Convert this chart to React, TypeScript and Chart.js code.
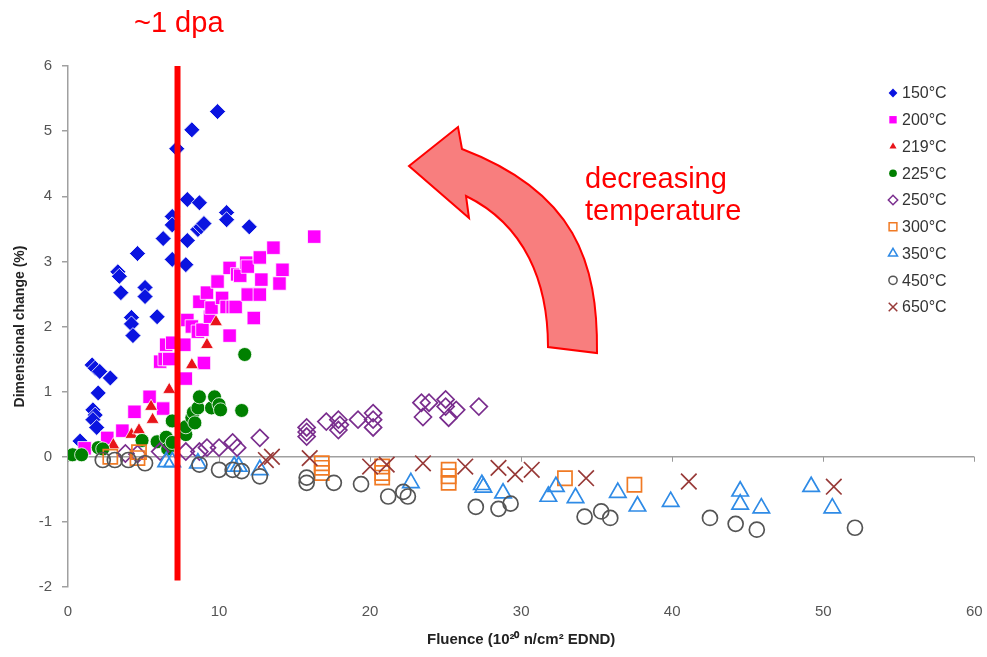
import React, { useEffect, useRef } from 'react';
import { Chart, registerables } from 'chart.js';
import { drawPoint } from 'chart.js/helpers';

Chart.register(...registerables);

// ---------- data ----------
const xTicks = [0, 10, 20, 30, 40, 50, 60];
const yTicks = [-2, -1, 0, 1, 2, 3, 4, 5, 6];
const seriesLabels = ['150°C', '200°C', '219°C', '225°C', '250°C', '300°C', '350°C', '450°C', '650°C'];

type P = [number, number];

const t150: P[] = [
  [0.8, 0.24], [1.6, 1.41], [1.8, 1.36], [2.1, 1.31], [2.8, 1.21], [2.0, 0.98],
  [1.65, 0.72], [1.8, 0.64], [1.65, 0.57], [1.9, 0.45],
  [3.3, 2.84], [3.4, 2.77], [3.5, 2.52], [4.6, 3.12], [5.1, 2.6], [5.1, 2.46],
  [4.2, 2.14], [4.2, 2.04], [4.3, 1.86], [5.9, 2.15], [6.3, 3.35], [6.9, 3.69],
  [6.9, 3.56], [6.9, 3.03], [7.2, 4.73], [7.8, 2.95], [7.9, 3.32], [7.9, 3.95],
  [8.2, 5.02], [8.7, 3.9], [8.6, 3.49], [8.8, 3.53], [9.0, 3.58], [9.9, 5.3],
  [10.5, 3.75], [10.5, 3.64], [12.0, 3.53],
];
const t200: P[] = [
  [1.1, 0.13], [2.6, 0.29], [3.6, 0.4], [4.4, 0.69], [5.4, 0.92], [6.3, 0.74],
  [6.1, 1.46], [6.4, 1.5], [6.7, 1.5], [6.5, 1.72], [6.9, 1.75], [7.7, 1.72],
  [7.8, 1.2], [7.9, 2.1], [8.2, 2.0], [8.6, 1.92], [8.9, 1.95], [9.0, 1.44],
  [8.7, 2.38], [9.2, 2.52], [9.4, 2.15], [9.5, 2.29], [9.9, 2.69], [10.2, 2.44],
  [10.5, 2.3], [10.7, 1.86], [10.7, 2.9], [10.9, 2.3], [11.1, 2.3], [11.2, 2.8],
  [11.4, 2.78], [11.8, 2.98], [11.9, 2.92], [11.9, 2.49], [12.3, 2.13], [12.7, 2.49],
  [12.7, 3.06], [12.8, 2.72], [13.6, 3.21], [14.0, 2.66], [14.2, 2.87], [16.3, 3.38],
];
const t219: P[] = [
  [3.0, 0.18], [4.2, 0.34], [4.7, 0.41], [5.6, 0.57], [5.5, 0.77], [6.7, 1.03],
  [8.2, 1.41], [9.2, 1.72], [9.8, 2.07],
];
const t225: P[] = [
  [0.3, 0.03], [0.9, 0.03], [2.0, 0.14], [2.3, 0.12], [4.9, 0.25], [5.9, 0.23],
  [6.5, 0.3], [6.6, 0.12], [6.9, 0.22], [6.9, 0.55], [7.8, 0.34], [7.8, 0.46],
  [8.2, 0.6], [8.3, 0.68], [8.6, 0.75], [8.7, 0.92], [8.4, 0.52], [9.5, 0.75],
  [9.7, 0.92], [10.0, 0.8], [10.1, 0.72], [11.5, 0.71], [11.7, 1.57],
];
const t250: P[] = [
  [3.8, 0.05], [4.6, 0.04], [6.1, 0.08], [7.8, 0.08], [8.7, 0.08], [9.2, 0.14],
  [10.0, 0.14], [10.9, 0.22], [11.2, 0.14], [12.7, 0.29],
  [15.8, 0.45], [15.8, 0.38], [15.8, 0.31], [17.1, 0.54], [17.9, 0.57], [18.0, 0.49],
  [17.9, 0.41], [19.2, 0.57], [20.2, 0.67], [20.2, 0.57], [20.2, 0.45], [23.4, 0.83],
  [23.5, 0.61], [23.9, 0.83], [25.0, 0.88], [25.0, 0.77], [25.2, 0.6], [25.7, 0.72],
  [27.2, 0.77],
];
const t300: P[] = [
  [2.8, 0.0], [4.6, -0.02], [4.7, 0.07], [16.8, -0.1], [16.8, -0.17], [16.8, -0.25],
  [20.8, -0.15], [20.8, -0.25], [20.8, -0.32], [25.2, -0.2], [25.2, -0.3], [25.2, -0.4],
  [32.9, -0.33], [37.5, -0.43],
];
const t350: P[] = [
  [6.5, -0.08], [6.9, -0.08], [8.6, -0.1], [11.0, -0.15], [11.3, -0.15], [12.7, -0.2],
  [22.7, -0.4], [27.4, -0.43], [27.5, -0.47], [28.8, -0.56], [31.8, -0.61], [32.3, -0.46],
  [33.6, -0.63], [36.4, -0.55], [37.7, -0.76], [39.9, -0.69], [44.5, -0.53], [44.5, -0.73],
  [45.9, -0.79], [49.2, -0.46], [50.6, -0.79],
];
const t450: P[] = [
  [2.3, -0.05], [3.1, -0.05], [4.0, -0.05], [5.1, -0.1], [8.7, -0.12], [10.0, -0.2],
  [10.9, -0.2], [11.5, -0.22], [12.7, -0.3], [15.8, -0.32], [15.8, -0.4], [17.6, -0.4],
  [19.4, -0.42], [21.2, -0.61], [22.2, -0.54], [22.5, -0.61], [27.0, -0.77], [28.5, -0.8],
  [29.3, -0.72], [34.2, -0.92], [35.3, -0.84], [35.9, -0.94], [42.5, -0.94], [44.2, -1.03],
  [45.6, -1.12], [52.1, -1.09],
];
const t650: P[] = [
  [13.1, -0.05], [13.5, 0.0], [16.0, -0.02], [20.0, -0.15], [21.1, -0.12], [23.5, -0.1],
  [26.3, -0.15], [28.5, -0.17], [29.6, -0.27], [30.7, -0.2], [34.3, -0.33], [41.1, -0.38],
  [50.7, -0.46],
];
const seriesData = [t150, t200, t219, t225, t250, t300, t350, t450, t650];

const dpaFluence = 7.25;
const dpaRange = [6, -1.9];
const headline = '~1 dpa';
const arrowText = ['decreasing', 'temperature'];
const xTitle = 'Fluence (10²⁰ n/cm² EDND)';
const yTitle = 'Dimensional change (%)';

// ---------- styles ----------
const styles = [
  { ps: 'rectRot', c: '#0a14e0', r: 8, fill: true },
  { ps: 'rect', c: '#ff00ff', r: 9.5, fill: true },
  { ps: 'triangle', c: '#e8141a', r: 7.5, fill: true },
  { ps: 'circle', c: '#008000', r: 7, fill: true },
  { ps: 'rectRot', c: '#7a2e8e', r: 8.5, fill: false },
  { ps: 'rect', c: '#f07a24', r: 10, fill: false },
  { ps: 'triangle', c: '#2f8be6', r: 9.5, fill: false },
  { ps: 'circle', c: '#555555', r: 7.5, fill: false },
  { ps: 'crossRot', c: '#983a38', r: 11, fill: false },
];

const FONT = '"Liberation Sans", Arial, sans-serif';

const overlay = {
  id: 'overlay',
  beforeDatasetsDraw(chart: any) {
    const ctx = chart.ctx;
    const xs = chart.scales.x;
    const ys = chart.scales.y;
    const y0 = ys.getPixelForValue(0);
    ctx.save();
    ctx.strokeStyle = '#999';
    ctx.lineWidth = 1;
    xTicks.forEach((v) => {
      const px = Math.round(xs.getPixelForValue(v)) + 0.5;
      ctx.beginPath();
      ctx.moveTo(px, y0);
      ctx.lineTo(px, y0 + 5);
      ctx.stroke();
    });
    ctx.restore();
  },
  afterDraw(chart: any) {
    const ctx = chart.ctx;
    ctx.save();
    // headline
    ctx.fillStyle = '#ff0000';
    ctx.font = '29px ' + FONT;
    ctx.textBaseline = 'alphabetic';
    ctx.textAlign = 'left';
    ctx.fillText(headline, 134, 32);
    // arrow text
    ctx.fillText(arrowText[0], 585, 188);
    ctx.fillText(arrowText[1], 585, 220);
    // curved arrow
    ctx.beginPath();
    ctx.moveTo(597, 353);
    ctx.bezierCurveTo(598, 262, 575, 192, 462, 149);
    ctx.lineTo(458, 127);
    ctx.lineTo(409, 166);
    ctx.lineTo(469, 218);
    ctx.lineTo(466, 196);
    ctx.bezierCurveTo(525, 225, 548, 282, 548, 347);
    ctx.closePath();
    ctx.fillStyle = 'rgba(247,112,112,0.9)';
    ctx.fill();
    ctx.strokeStyle = '#ff0000';
    ctx.lineWidth = 2;
    ctx.lineJoin = 'miter';
    ctx.stroke();
    // legend
    const lx = 893;
    const ly0 = 93;
    const step = 26.75;
    ctx.font = '16px ' + FONT;
    ctx.textBaseline = 'middle';
    seriesLabels.forEach((lab, i) => {
      const s = styles[i];
      const y = ly0 + i * step;
      ctx.fillStyle = s.fill ? s.c : 'rgba(0,0,0,0)';
      ctx.strokeStyle = s.c;
      ctx.lineWidth = s.fill ? 0 : 1.5;
      drawPoint(ctx, { pointStyle: s.ps, radius: s.r * 0.55, rotation: 0, borderWidth: s.fill ? 0 : 1.5 } as any, lx, y);
      ctx.fillStyle = '#333333';
      ctx.fillText(lab, lx + 9, y + 1);
    });
    ctx.restore();
  },
};

export default function App() {
  const ref = useRef<HTMLCanvasElement>(null);
  useEffect(() => {
    if (!ref.current) return;
    const datasets: any[] = seriesData.map((d, i) => {
      const s = styles[i];
      return {
        label: seriesLabels[i],
        data: d.map(([x, y]) => ({ x, y })),
        pointStyle: s.ps,
        pointRadius: s.r,
        pointBackgroundColor: s.fill ? s.c : 'rgba(0,0,0,0)',
        pointBorderColor: s.fill ? '#ffffff' : s.c,
        pointBorderWidth: s.fill ? 0.8 : 1.7,
        backgroundColor: s.c,
        borderColor: s.c,
        showLine: false,
        order: 20 - i,
      };
    });
    datasets.push({
      label: '~1 dpa',
      data: dpaRange.map((y) => ({ x: dpaFluence, y })),
      showLine: true,
      borderColor: '#ff0000',
      borderWidth: 6,
      borderCapStyle: 'butt',
      pointRadius: 0,
      order: 0,
    });
    const chart = new Chart(ref.current, {
      type: 'scatter',
      data: { datasets },
      plugins: [overlay],
      options: {
        animation: false,
        responsive: false,
        layout: { padding: { top: 66, right: 8, left: 0, bottom: 0 } },
        plugins: { legend: { display: false }, tooltip: { enabled: false } },
        scales: {
          x: {
            type: 'linear',
            min: 0,
            max: 60,
            afterBuildTicks: (sc: any) => { sc.ticks = xTicks.map((v) => ({ value: v })); },
            afterFit: (sc: any) => { sc.height = 70; sc.paddingRight = 0; sc.paddingLeft = 0; },
            grid: { display: false, drawTicks: false },
            border: { display: false },
            ticks: {
              padding: 16,
              color: '#555',
              font: { family: FONT, size: 15 },
            },
            title: {
              display: true,
              text: xTitle,
              color: '#222',
              padding: { top: 0, bottom: 8 },
              font: { family: FONT, size: 15, weight: 'bold' },
            },
          },
          y: {
            type: 'linear',
            min: -2,
            max: 6,
            afterBuildTicks: (sc: any) => { sc.ticks = yTicks.map((v) => ({ value: v })); },
            afterFit: (sc: any) => { sc.width = 68; sc.paddingTop = 0; sc.paddingBottom = 0; },
            grid: {
              drawOnChartArea: true,
              color: (c: any) => (c.tick && c.tick.value === 0 ? '#a0a0a0' : 'rgba(0,0,0,0)'),
              tickColor: '#a0a0a0',
              tickLength: 6,
              lineWidth: 1.5,
            },
            border: { display: true, color: '#a0a0a0', width: 1.5 },
            ticks: {
              padding: 10,
              color: '#555',
              font: { family: FONT, size: 15 },
            },
            title: {
              display: true,
              text: yTitle,
              color: '#222',
              padding: { top: 12, bottom: 0 },
              font: { family: FONT, size: 14, weight: 'bold' },
            },
          },
        },
      } as any,
    });
    return () => chart.destroy();
  }, []);
  return (
    <div style={{ position: 'absolute', left: 0, top: 0, width: 987, height: 657, background: '#fff' }}>
      <canvas ref={ref} width={987} height={657} style={{ display: 'block' }} />
    </div>
  );
}
